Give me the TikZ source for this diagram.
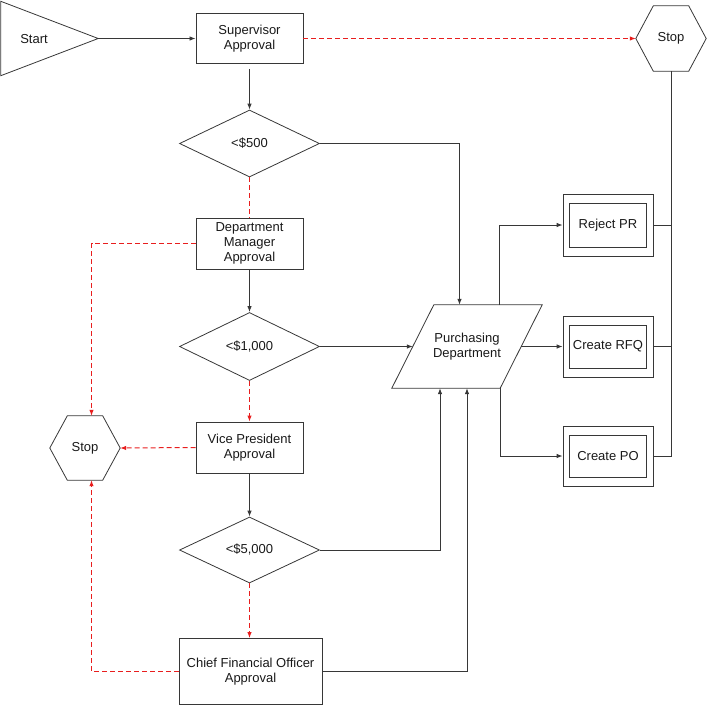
\documentclass[tikz,border=0pt]{standalone}
\usepackage{fontspec}
\setmainfont{Liberation Sans}
\usetikzlibrary{shapes.geometric,arrows.meta}
\definecolor{ln}{RGB}{55,55,55}
\definecolor{rd}{RGB}{232,30,30}
\definecolor{tx}{RGB}{25,25,25}
\tikzset{
  base/.style={inner sep=0pt, text=tx, font=\fontsize{13}{15}\selectfont, align=center},
  box/.style={base, draw=ln, line width=0.9pt, rectangle},
  dia/.style={base, draw=ln, line width=0.8pt, diamond, minimum width=140pt, minimum height=67pt},
  ghost/.style={base},
  conn/.style={draw=ln, line width=0.8pt},
  arr/.style={conn, -{Latex[length=6pt,width=4.5pt]}},
  reddash/.style={draw=rd, line width=1pt, dash pattern=on 5pt off 3pt},
  redarr/.style={reddash, -{Latex[length=6pt,width=4.5pt,fill=rd]}},
  outline/.style={draw=ln, line width=0.8pt}
}
\newcommand{\hexpath}[1]{\draw[outline] (#1.west) -- ([xshift=17.5pt]#1.north west) -- ([xshift=-17.5pt]#1.north east) -- (#1.east) -- ([xshift=-17.5pt]#1.south east) -- ([xshift=17.5pt]#1.south west) -- cycle;}
\newcommand{\innerbox}[1]{\draw[outline] ([shift={(6.5pt,-9.5pt)}]#1.north west) rectangle ([shift={(-7pt,9pt)}]#1.south east);}
\begin{document}
\begin{tikzpicture}[x=1pt,y=1pt]
\useasboundingbox (0,0) rectangle (709,-705);
% start triangle
\node[ghost, minimum width=97pt, minimum height=74pt] (start) at (49.5,-38.5) {};
\draw[outline] (start.north west) -- (start.east) -- (start.south west) -- cycle;
\node[ghost] (starttxt) at (34,-39) {Start};
% boxes
\node[box, minimum width=107pt, minimum height=50pt] (sup) at (249.5,-38.5) {Supervisor\\Approval};
\node[dia] (d500) at (249.5,-143.5) {<\$500};
\node[box, minimum width=107pt, minimum height=51pt] (dm) at (249.5,-243.5) {Department\\Manager\\Approval};
\node[dia, minimum height=68pt] (d1000) at (249.5,-346.5) {<\$1,000};
\node[box, minimum width=107pt, minimum height=51pt] (vp) at (249.5,-447.5) {Vice President\\Approval};
\node[dia, minimum height=66pt] (d5000) at (249.5,-550) {<\$5,000};
\node[box, minimum width=143pt, minimum height=66pt] (cfo) at (250.5,-671.5) {Chief Financial Officer\\Approval};
% stops
\node[ghost, minimum width=70pt, minimum height=64pt] (stopL) at (85,-448) {Stop};
\hexpath{stopL}
\node[ghost, minimum width=70pt, minimum height=65pt] (stopT) at (671,-38.5) {Stop};
\hexpath{stopT}
% purchasing department parallelogram
\node[ghost, minimum width=150pt, minimum height=83pt] (pd) at (467,-346.5) {Purchasing\\Department};
\draw[outline] (pd.south west) -- ([xshift=42pt]pd.north west) -- (pd.north east) -- ([xshift=-42pt]pd.south east) -- cycle;
% outcome boxes
\node[box, line width=0.8pt, minimum width=90pt, minimum height=62pt] (rej) at (608,-225) {Reject PR};
\innerbox{rej}
\node[box, line width=0.8pt, minimum width=90pt, minimum height=61pt] (rfq) at (608,-346.5) {Create RFQ};
\innerbox{rfq}
\node[box, line width=0.8pt, minimum width=90pt, minimum height=60pt] (po) at (608,-456) {Create PO};
\innerbox{po}
% connectors
\draw[arr] (start.east) -- (sup.west);
\draw[redarr] (sup.east) -- (stopT.west);
\draw[arr] ([yshift=-5pt]sup.south) -- (d500.north);
\draw[arr] (d500.east) -| ([xshift=-7.5pt]pd.north);
\draw[reddash] (d500.south) -- (dm.north);
\draw[redarr] (dm.west) -| ([xshift=6.5pt]stopL.north);
\draw[arr] (dm.south) -- (d1000.north);
\draw[arr] (d1000.east) -- ([xshift=21pt]pd.west);
\draw[redarr] (d1000.south) -- (vp.north);
\draw[redarr] (vp.west) -- (stopL.east);
\draw[arr] (vp.south) -- (d5000.north);
\draw[arr] (d5000.east) -| ([xshift=-27pt]pd.south);
\draw[redarr] (d5000.south) -- (d5000.south |- cfo.north);
\draw[arr] (cfo.east) -| (pd.south);
\draw[redarr] (cfo.west) -| ([xshift=6.5pt]stopL.south);
\draw[arr] ([xshift=32pt]pd.north) |- (rej.west);
\draw[arr] ([xshift=-21pt]pd.east) -- (rfq.west);
\draw[arr] ([xshift=33pt]pd.south) |- (po.west);
\draw[conn] (po.east) -| (stopT.south);
\draw[conn] (rej.east) -- (rej.east -| stopT.south);
\draw[conn] (rfq.east) -- (rfq.east -| stopT.south);
\end{tikzpicture}
\end{document}
